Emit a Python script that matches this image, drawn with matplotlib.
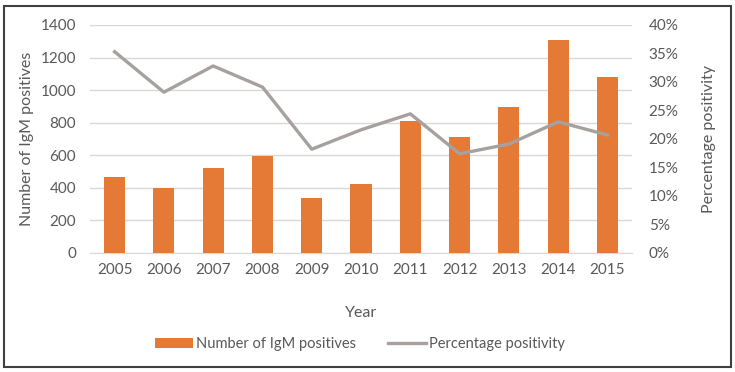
import matplotlib
matplotlib.use("Agg")
from matplotlib import pyplot as plt, patches
from matplotlib.ticker import PercentFormatter

years = ["2005", "2006", "2007", "2008", "2009", "2010",
         "2011", "2012", "2013", "2014", "2015"]
igm_positives = [467, 400, 522, 596, 338, 424, 810, 712, 897, 1308, 1081]
pct_positivity = [35.3, 28.2, 32.8, 29.1, 18.2, 21.6, 24.4, 17.4, 19.1, 23.0, 20.7]

plt.rcParams["font.family"] = ["Lato", "DejaVu Sans"]
text_col = "#595959"

fig = plt.figure(figsize=(7.35, 3.72), dpi=100)
ax = fig.add_axes([0.1224, 0.320, 0.7376, 0.613])
ax2 = ax.twinx()

x = range(len(years))
bars = ax.bar(x, igm_positives, width=0.43, color="#E57A36", zorder=3,
              label="Number of IgM positives")
line, = ax2.plot(x, pct_positivity, color="#A6A19E", linewidth=2.4,
                 label="Percentage positivity", zorder=4)

ax.set_ylim(0, 1400)
ax.set_yticks(range(0, 1401, 200))
ax.set_xlim(-0.5, len(years) - 0.5)
ax.set_xticks(list(x))
ax.set_xticklabels(years)
ax2.set_ylim(0, 40)
ax2.set_yticks(range(0, 41, 5))
ax2.yaxis.set_major_formatter(PercentFormatter(decimals=0))

ax.grid(axis="y", color="#d9d9d9", linewidth=1, zorder=0)
for a in (ax, ax2):
    for s in a.spines.values():
        s.set_visible(False)
    a.tick_params(length=0, colors=text_col, labelsize=11)
ax.spines["bottom"].set_visible(True)
ax.spines["bottom"].set_color("#d9d9d9")
ax.tick_params(axis="x", pad=7)
ax.tick_params(axis="y", pad=10)
ax2.tick_params(axis="y", pad=12)

ax.set_ylabel("Number of IgM positives", color=text_col, fontsize=11.5, labelpad=5)
ax2.set_ylabel("Percentage positivity", color=text_col, fontsize=11.5, labelpad=17)
ax.set_xlabel("Year", color=text_col, fontsize=11.5, labelpad=21)

fig.legend([bars, line], ["Number of IgM positives", "Percentage positivity"],
           loc="center", bbox_to_anchor=(0.49, 0.075), ncol=2, frameon=False,
           fontsize=10.5, labelcolor=text_col, handlelength=2.6, handletextpad=0.2,
           columnspacing=2.2)

fig.patches.append(patches.Rectangle((0.005, 0.013), 0.99, 0.972,
                                     transform=fig.transFigure, fill=False,
                                     edgecolor="#404040", linewidth=1.5))

fig.savefig("out.png", dpi=100)
